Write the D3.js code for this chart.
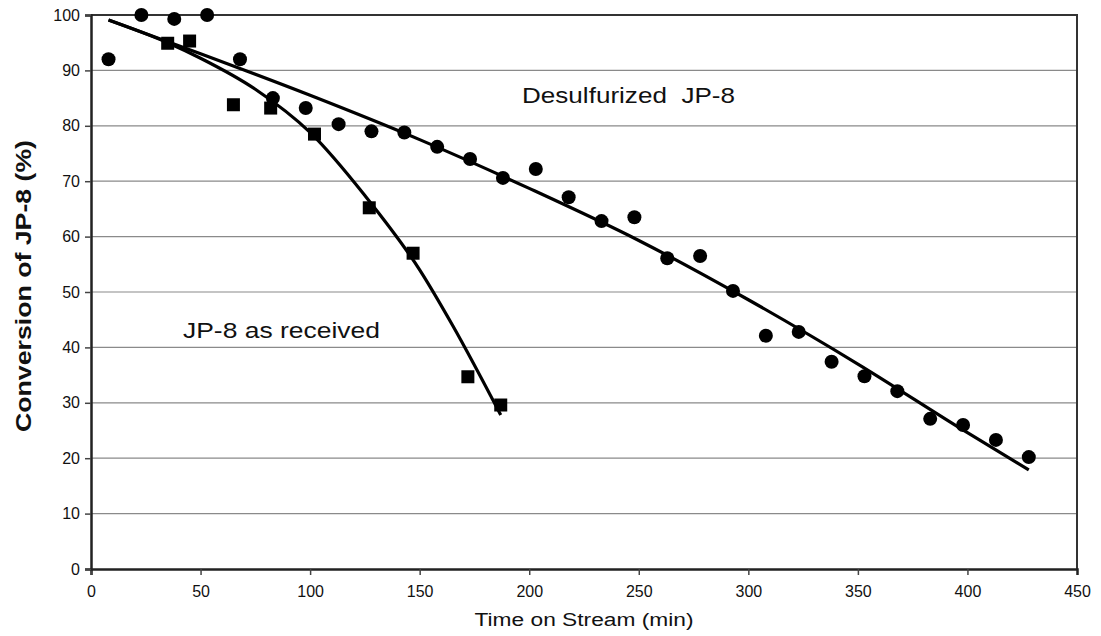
<!DOCTYPE html>
<html>
<head>
<meta charset="utf-8">
<script src="https://cdn.jsdelivr.net/npm/d3@7"></script>
<style>
  body { margin: 0; background: #fff; }
  text { font-family: "Liberation Sans", Arial, sans-serif; fill: #111; }
</style>
</head>
<body>
<div id="maViz"></div>
<script>
// donnees
const desulfX = [8, 23, 38, 53, 68, 83, 98, 113, 128, 143, 158, 173, 188, 203, 218, 233, 248, 263, 278, 293, 308, 323, 338, 353, 368, 383, 398, 413, 428];
const desulfY = [92, 100, 99.3, 100, 92, 85, 83.2, 80.3, 79, 78.8, 76.2, 74, 70.6, 72.2, 67.1, 62.8, 63.5, 56.1, 56.5, 50.2, 42.1, 42.8, 37.4, 34.8, 32.1, 27.1, 26, 23.3, 20.2];
const recvX = [35, 45, 65, 82, 102, 127, 147, 172, 187];
const recvY = [94.9, 95.3, 83.8, 83.2, 78.5, 65.2, 57, 34.7, 29.6];

// courbes de tendance
const fitDesulfX = [8, 50, 100, 150, 200, 250, 300, 350, 400, 428];
const fitDesulfY = [99.1, 93.0, 85.5, 77.5, 68.7, 59.3, 48.6, 37.0, 24.6, 17.9];
const fitRecvX = [8, 35, 50, 75, 100, 125, 150, 165, 187];
const fitRecvY = [99.1, 95.0, 92.2, 86.6, 78.8, 67.4, 54.0, 44.0, 27.8];

const xTicks = [0, 50, 100, 150, 200, 250, 300, 350, 400, 450];
const yTicks = [0, 10, 20, 30, 40, 50, 60, 70, 80, 90, 100];

// dimensions
const W = 1101, H = 636;
const margin = {top: 15, right: 24, bottom: 67, left: 91};
const width = W - margin.left - margin.right;
const height = H - margin.top - margin.bottom;

const svg = d3.select("#maViz").append("svg")
  .attr("width", W).attr("height", H);
const g = svg.append("g")
  .attr("transform", `translate(${margin.left},${margin.top})`);

const x = d3.scaleLinear().domain([0, 450]).range([0, width]);
const y = d3.scaleLinear().domain([0, 100]).range([height, 0]);

// grille
g.append("g").selectAll("line").data(yTicks.filter(d => d > 0 && d < 100)).join("line")
  .attr("x1", 0).attr("x2", width)
  .attr("y1", d => y(d)).attr("y2", d => y(d))
  .attr("stroke", "#8a8a8a").attr("stroke-width", 1.2);

// cadre haut + droite
g.append("path")
  .attr("d", `M0,${y(100)}H${width}V${height}`)
  .attr("fill", "none").attr("stroke", "#333").attr("stroke-width", 2);

// axes
const axX = g.append("g").attr("transform", `translate(0,${height})`)
  .call(d3.axisBottom(x).tickValues(xTicks).tickSize(6).tickPadding(11));
const axY = g.append("g")
  .call(d3.axisLeft(y).tickValues(yTicks).tickSize(6).tickPadding(5));
[axX, axY].forEach(a => {
  a.select(".domain").attr("stroke", "#222").attr("stroke-width", 2.5);
  a.selectAll(".tick line").attr("stroke", "#444").attr("stroke-width", 1.5);
  a.selectAll(".tick text").attr("font-size", 16).attr("fill", "#222")
    .style("font-family", "'Liberation Sans', Arial, sans-serif");
});
axX.select(".tick:last-of-type line").remove();

// courbes
const line = d3.line().x(d => x(d[0])).y(d => y(d[1])).curve(d3.curveMonotoneX);
g.append("path").datum(d3.zip(fitDesulfX, fitDesulfY))
  .attr("d", line).attr("fill", "none").attr("stroke", "#000").attr("stroke-width", 3.2);
g.append("path").datum(d3.zip(fitRecvX, fitRecvY))
  .attr("d", line).attr("fill", "none").attr("stroke", "#000").attr("stroke-width", 3.2);

// points
g.append("g").selectAll("circle").data(d3.zip(desulfX, desulfY)).join("circle")
  .attr("cx", d => x(d[0])).attr("cy", d => y(d[1])).attr("r", 7).attr("fill", "#000");
const sq = 13;
g.append("g").selectAll("rect").data(d3.zip(recvX, recvY)).join("rect")
  .attr("x", d => x(d[0]) - sq / 2).attr("y", d => y(d[1]) - sq / 2)
  .attr("width", sq).attr("height", sq).attr("fill", "#000");

// textes
svg.append("text").attr("x", 522).attr("y", 103)
  .attr("font-size", 22).attr("textLength", 213).attr("lengthAdjust", "spacingAndGlyphs")
  .attr("xml:space", "preserve").text("Desulfurized  JP-8");
svg.append("text").attr("x", 183).attr("y", 338)
  .attr("font-size", 22).attr("textLength", 197).attr("lengthAdjust", "spacingAndGlyphs")
  .text("JP-8 as received");

svg.append("text")
  .attr("x", margin.left + width / 2).attr("y", 626)
  .attr("text-anchor", "middle").attr("font-size", 18)
  .attr("textLength", 219).attr("lengthAdjust", "spacingAndGlyphs")
  .text("Time on Stream (min)");

svg.append("text")
  .attr("transform", "translate(31,286) rotate(-90)")
  .attr("text-anchor", "middle").attr("font-size", 22).attr("font-weight", "bold")
  .attr("textLength", 292).attr("lengthAdjust", "spacingAndGlyphs")
  .text("Conversion of JP-8 (%)");
</script>
</body>
</html>
